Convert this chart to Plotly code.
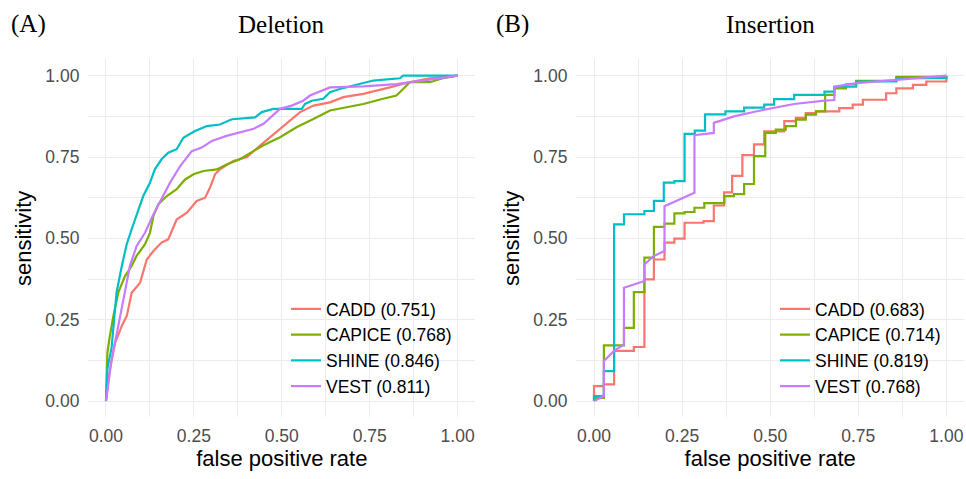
import plotly.graph_objects as go

# ---------------- data ----------------
methods = ["CADD", "CAPICE", "SHINE", "VEST"]
del_auc = ["0.751", "0.768", "0.846", "0.811"]
ins_auc = ["0.683", "0.714", "0.819", "0.768"]
colors = ["#F8766D", "#7CAE00", "#00BFC4", "#C77CFF"]
tick_vals = [0, 0.25, 0.5, 0.75, 1.0]
tick_text = ["0.00", "0.25", "0.50", "0.75", "1.00"]

# Deletion ROC curves
del_cadd_fpr = [0, 0.011, 0.026, 0.045, 0.059, 0.073, 0.097, 0.116, 0.135, 0.158, 0.177, 0.201, 0.230, 0.258, 0.282, 0.296, 0.310, 0.324, 0.362, 0.401, 0.439, 0.467, 0.505, 0.552, 0.590, 0.637, 0.675, 0.732, 0.807, 0.854, 0.921, 1.0]
del_cadd_tpr = [0, 0.097, 0.179, 0.231, 0.261, 0.333, 0.364, 0.435, 0.461, 0.487, 0.497, 0.558, 0.579, 0.615, 0.625, 0.656, 0.697, 0.712, 0.738, 0.750, 0.786, 0.811, 0.847, 0.888, 0.908, 0.918, 0.934, 0.944, 0.964, 0.978, 0.992, 1.0]

del_capice_fpr = [0, 0.004, 0.011, 0.021, 0.035, 0.054, 0.073, 0.087, 0.111, 0.125, 0.135, 0.149, 0.173, 0.201, 0.225, 0.249, 0.277, 0.315, 0.343, 0.381, 0.419, 0.448, 0.495, 0.543, 0.590, 0.637, 0.684, 0.732, 0.788, 0.826, 0.845, 0.864, 0.921, 0.958, 1.0]
del_capice_tpr = [0, 0.149, 0.200, 0.261, 0.333, 0.384, 0.415, 0.446, 0.482, 0.517, 0.569, 0.605, 0.630, 0.651, 0.681, 0.697, 0.707, 0.712, 0.727, 0.743, 0.768, 0.786, 0.811, 0.842, 0.867, 0.893, 0.903, 0.913, 0.929, 0.939, 0.959, 0.980, 0.980, 0.992, 1.0]

del_shine_fpr = [0, 0.004, 0.016, 0.030, 0.045, 0.059, 0.073, 0.087, 0.106, 0.125, 0.139, 0.158, 0.177, 0.201, 0.220, 0.253, 0.287, 0.324, 0.358, 0.424, 0.443, 0.476, 0.557, 0.566, 0.585, 0.618, 0.637, 0.665, 0.760, 0.836, 0.845, 1.0]
del_shine_tpr = [0, 0.100, 0.164, 0.333, 0.415, 0.482, 0.528, 0.574, 0.630, 0.671, 0.712, 0.743, 0.763, 0.774, 0.809, 0.830, 0.845, 0.850, 0.866, 0.872, 0.888, 0.898, 0.898, 0.913, 0.923, 0.929, 0.949, 0.959, 0.985, 0.992, 1.0, 1.0]

del_vest_fpr = [0, 0.016, 0.035, 0.054, 0.068, 0.087, 0.111, 0.135, 0.158, 0.182, 0.211, 0.244, 0.272, 0.301, 0.343, 0.381, 0.420, 0.448, 0.476, 0.495, 0.528, 0.561, 0.580, 0.613, 0.637, 0.732, 0.826, 0.921, 1.0]
del_vest_tpr = [0, 0.128, 0.231, 0.343, 0.415, 0.476, 0.517, 0.574, 0.620, 0.671, 0.722, 0.768, 0.779, 0.799, 0.815, 0.825, 0.837, 0.852, 0.878, 0.898, 0.908, 0.923, 0.939, 0.954, 0.964, 0.967, 0.974, 0.988, 1.0]

# Insertion ROC curves (step points)
ins_cadd_fpr = [0, 0, 0.028, 0.057, 0.113, 0.143, 0.170, 0.200, 0.228, 0.257, 0.311, 0.340, 0.369, 0.392, 0.421, 0.454, 0.483, 0.540, 0.573, 0.601, 0.630, 0.696, 0.734, 0.763, 0.829, 0.858, 0.905, 0.943, 1.0]
ins_cadd_tpr = [0, 0.046, 0.051, 0.154, 0.166, 0.374, 0.435, 0.487, 0.499, 0.548, 0.553, 0.601, 0.641, 0.692, 0.756, 0.789, 0.829, 0.860, 0.870, 0.885, 0.890, 0.900, 0.911, 0.926, 0.946, 0.961, 0.972, 0.982, 0.992]

ins_capice_fpr = [0, 0, 0.028, 0.085, 0.113, 0.143, 0.170, 0.200, 0.228, 0.257, 0.285, 0.313, 0.370, 0.397, 0.426, 0.454, 0.486, 0.516, 0.544, 0.573, 0.601, 0.630, 0.656, 0.682, 0.715, 0.744, 0.858, 1.0]
ins_capice_tpr = [0, 0.010, 0.171, 0.225, 0.335, 0.441, 0.535, 0.545, 0.577, 0.581, 0.594, 0.608, 0.630, 0.636, 0.667, 0.753, 0.824, 0.834, 0.845, 0.865, 0.880, 0.890, 0.941, 0.961, 0.973, 0.984, 0.996, 1.0]

ins_shine_fpr = [0, 0, 0.028, 0.057, 0.085, 0.143, 0.170, 0.198, 0.228, 0.257, 0.286, 0.315, 0.373, 0.426, 0.483, 0.511, 0.568, 0.654, 0.682, 0.744, 0.858, 1.0]
ins_shine_tpr = [0, 0.015, 0.092, 0.543, 0.574, 0.584, 0.615, 0.671, 0.676, 0.821, 0.831, 0.881, 0.890, 0.902, 0.911, 0.928, 0.941, 0.951, 0.966, 0.982, 0.992, 1.0]

ins_vest_fpr = [0, 0.028, 0.028, 0.057, 0.085, 0.085, 0.143, 0.143, 0.170, 0.200, 0.200, 0.228, 0.285, 0.285, 0.340, 0.340, 0.397, 0.459, 0.516, 0.568, 0.654, 0.682, 0.682, 0.744, 0.858, 1.0]
ins_vest_tpr = [0, 0.015, 0.123, 0.154, 0.174, 0.348, 0.369, 0.420, 0.446, 0.461, 0.599, 0.612, 0.640, 0.817, 0.824, 0.855, 0.875, 0.890, 0.902, 0.913, 0.923, 0.925, 0.966, 0.977, 0.987, 1.0]

del_curves = [(del_cadd_fpr, del_cadd_tpr, "linear"), (del_capice_fpr, del_capice_tpr, "linear"),
              (del_shine_fpr, del_shine_tpr, "linear"), (del_vest_fpr, del_vest_tpr, "linear")]
ins_curves = [(ins_cadd_fpr, ins_cadd_tpr, "hv"), (ins_capice_fpr, ins_capice_tpr, "hv"),
              (ins_shine_fpr, ins_shine_tpr, "hv"), (ins_vest_fpr, ins_vest_tpr, "linear")]

# ---------------- figure ----------------
W, H = 966, 479
fig = go.Figure()

for i, (fx, ty, shp) in enumerate(del_curves):
    fig.add_trace(go.Scatter(x=fx, y=ty, mode="lines", line=dict(color=colors[i], width=2.2, shape=shp),
                             name=f"{methods[i]} ({del_auc[i]})", xaxis="x", yaxis="y", legend="legend"))
for i, (fx, ty, shp) in enumerate(ins_curves):
    fig.add_trace(go.Scatter(x=fx, y=ty, mode="lines", line=dict(color=colors[i], width=2.2, shape=shp),
                             name=f"{methods[i]} ({ins_auc[i]})", xaxis="x2", yaxis="y2", legend="legend2"))

sans = "Liberation Sans, Arial, sans-serif"
serif = "Liberation Serif, Times New Roman, serif"

def xax(domain, anchor):
    return dict(domain=domain, anchor=anchor, range=[-0.05, 1.05], tickvals=tick_vals, ticktext=tick_text,
                showgrid=True, gridcolor="#EBEBEB", gridwidth=1.3, zeroline=False, showline=False, ticks="",
                minor=dict(dtick=0.125, showgrid=True, gridcolor="#EBEBEB", gridwidth=0.9),
                tickfont=dict(family=sans, size=17.5, color="#4D4D4D"), ticklabelstandoff=6,
                title=dict(text="false positive rate", font=dict(family=sans, size=22, color="black"), standoff=5),
                automargin=False, fixedrange=True)

def yax(domain, anchor):
    return dict(domain=domain, anchor=anchor, range=[-0.05, 1.05], tickvals=tick_vals, ticktext=tick_text,
                showgrid=True, gridcolor="#EBEBEB", gridwidth=1.3, zeroline=False, showline=False, ticks="",
                minor=dict(dtick=0.125, showgrid=True, gridcolor="#EBEBEB", gridwidth=0.9),
                tickfont=dict(family=sans, size=17.5, color="#4D4D4D"), ticklabelstandoff=8,
                title=dict(text="sensitivity", font=dict(family=sans, size=22, color="black"), standoff=7),
                automargin=False, fixedrange=True)

ydom = [1 - 417.3 / H, 1 - 59.4 / H]
fig.update_layout(
    width=W, height=H,
    margin=dict(l=0, r=0, t=0, b=0, autoexpand=False),
    paper_bgcolor="white", plot_bgcolor="white",
    xaxis=xax([88.4 / W, 475.2 / W], "y"),
    yaxis=yax(ydom, "x"),
    xaxis2=xax([576.4 / W, 964.0 / W], "y2"),
    yaxis2=yax(ydom, "x2"),
    legend=dict(x=286 / W, y=1 - 291 / H, xanchor="left", yanchor="top", bgcolor="rgba(0,0,0,0)",
                font=dict(family=sans, size=17.5, color="black"), tracegroupgap=0),
    legend2=dict(x=775 / W, y=1 - 291 / H, xanchor="left", yanchor="top", bgcolor="rgba(0,0,0,0)",
                 font=dict(family=sans, size=17.5, color="black"), tracegroupgap=0),
    showlegend=True,
    annotations=[
        dict(text="Deletion", x=281.5 / W, y=1 - 24 / H, xref="paper", yref="paper", showarrow=False,
             xanchor="center", yanchor="middle", font=dict(family=serif, size=25, color="black")),
        dict(text="Insertion", x=770.3 / W, y=1 - 24 / H, xref="paper", yref="paper", showarrow=False,
             xanchor="center", yanchor="middle", font=dict(family=serif, size=25, color="black")),
        dict(text="(A)", x=9 / W, y=1 - 24 / H, xref="paper", yref="paper", showarrow=False,
             xanchor="left", yanchor="middle", font=dict(family=serif, size=25, color="black")),
        dict(text="(B)", x=494 / W, y=1 - 24 / H, xref="paper", yref="paper", showarrow=False,
             xanchor="left", yanchor="middle", font=dict(family=serif, size=25, color="black")),
    ],
)

fig.write_html("out.html", config={"displayModeBar": False},
               post_script="document.body.style.margin='0px';document.body.style.overflow='hidden';")
